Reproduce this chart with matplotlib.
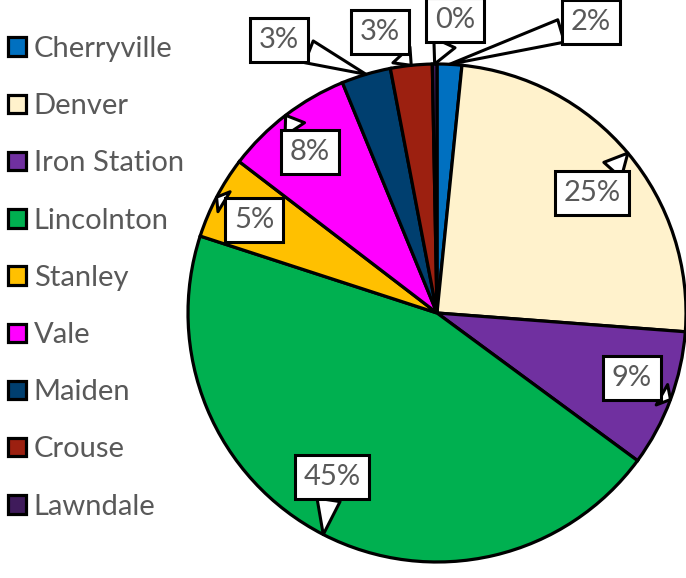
import matplotlib
matplotlib.use("Agg")
import numpy as np
import matplotlib.pyplot as plt
from matplotlib.patches import Patch

towns = ["Cherryville", "Denver", "Iron Station", "Lincolnton", "Stanley",
         "Vale", "Maiden", "Crouse", "Lawndale"]
shares = [1.6, 24.6, 8.9, 44.9, 5.4, 8.4, 3.2, 2.7, 0.3]
colors = ["#0070C0", "#FFF2CC", "#7030A0", "#00B050", "#FFC000",
          "#FF00FF", "#003F6F", "#9C2010", "#3F1B5B"]
# where each callout box sits (figure pixels, y down)
label_pos = [(591, 22), (592, 193), (632, 378), (332, 477), (254, 220),
             (310, 152), (279, 40), (380, 32), (455, 20)]

plt.rcParams["font.family"] = ["Lato", "DejaVu Sans"]
W, H = 686, 578
fig = plt.figure(figsize=(W / 100, H / 100), dpi=100)
ax = fig.add_axes([0, 0, 1, 1])

cx, cy, r = 437, H - 313, 249
wedges, _ = ax.pie(shares, colors=colors, startangle=90, counterclock=False,
                   center=(cx, cy), radius=r, frame=True,
                   wedgeprops=dict(edgecolor="black", linewidth=2.3))
ax.set_xlim(0, W)
ax.set_ylim(0, H)
ax.set_aspect("equal")
ax.axis("off")

total = sum(shares)
for w, v, (lx, ly) in zip(wedges, shares, label_pos):
    mid = np.deg2rad((w.theta1 + w.theta2) / 2)
    tip = (cx + r * np.cos(mid), cy + r * np.sin(mid))
    ax.annotate(f"{v / total * 100:.0f}%", xy=tip, xytext=(lx, H - ly),
                ha="center", va="center", fontsize=21, color="#595959",
                bbox=dict(boxstyle="square,pad=0.3", fc="white", ec="black", lw=2.2),
                arrowprops=dict(arrowstyle="wedge,tail_width=0.8,shrink_factor=0.5",
                                fc="white", ec="black", lw=2.2, shrinkA=0, shrinkB=0),
                annotation_clip=False)

handles = [Patch(facecolor=c, edgecolor="black", linewidth=2.3) for c in colors]
fig.legend(handles, towns, loc="upper left", bbox_to_anchor=(8 / W, 1 - 36 / H),
           frameon=False, fontsize=21, labelcolor="#595959", borderpad=0,
           borderaxespad=0, handlelength=0.6, handleheight=0.6,
           handletextpad=0.28, labelspacing=1.07)

fig.savefig("out.png", dpi=100)
